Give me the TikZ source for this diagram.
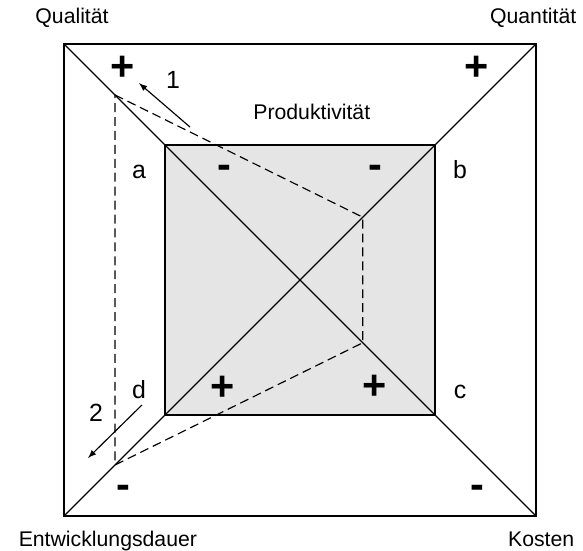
\documentclass[tikz,border=0pt]{standalone}
\usepackage{fontspec}
\setmainfont{Liberation Sans}
\usepackage{tikz}

\begin{document}
\begin{tikzpicture}[
        corner/.style={font=\fontsize{12.8}{14}\selectfont},
        side/.style={font=\fontsize{15}{17}\selectfont},
        sign/.style={font=\fontsize{25}{27}\selectfont\bfseries},
        guide/.style={dashed,dash pattern=on 5.4pt off 3pt,line width=0.7pt},
        line width=0.7pt
      ]
      \useasboundingbox (-6.356,-5.742) rectangle (5.996,5.932);
      % outer and inner square
      \coordinate (Q1) at (-5,5);
      \coordinate (Q2) at (5,5);
      \coordinate (Q3) at (5,-5);
      \coordinate (Q4) at (-5,-5);
      \coordinate (i1) at (-2.86,2.86);
      \coordinate (i2) at (2.86,2.86);
      \coordinate (i3) at (2.86,-2.86);
      \coordinate (i4) at (-2.86,-2.86);
      \fill[gray!20] (i1) rectangle (i3);
      \draw (Q1) -- (Q3);
      \draw (Q2) -- (Q4);
      \draw (Q1) -- (Q2) -- (Q3) -- (Q4) -- cycle;
      \draw (i1) -- (i2) -- (i3) -- (i4) -- cycle;
      % dashed profile
      \coordinate (p1) at (-3.92,3.92);
      \coordinate (p2) at (1.33,1.33);
      \coordinate (p3) at (1.33,-1.33);
      \coordinate (p4) at (-3.92,-3.92);
      \draw[guide] (p1) -- (p2) -- (p3) -- (p4) -- cycle;
      % arrows
      \coordinate (a1s) at (-2.33,3.24);
      \coordinate (a1e) at (-3.41,4.17);
      \coordinate (a2s) at (-3.35,-2.65);
      \coordinate (a2e) at (-4.49,-3.77);
      \draw[-latex] (a1s) -- (a1e);
      \draw[-latex] (a2s) -- (a2e);
      \node (n1) [side] at (-2.69,4.24) {1};
      \node (n2) [side] at (-4.32,-2.82) {2};
      % labels
      \node (qual) [corner] at (-4.83,5.55) {Qualität};
      \node (quan) [corner] at (4.94,5.55) {Quantität};
      \node (dauer) [corner] at (-4.07,-5.53) {Entwicklungsdauer};
      \node (kost) [corner] at (5.11,-5.49) {Kosten};
      \node (prod) [corner] at (0.25,3.56) {Produktivität};
      \node (a) [side] at (-3.41,2.29) {a};
      \node (b) [side] at (3.39,2.33) {b};
      \node (c) [side] at (3.39,-2.37) {c};
      \node (d) [side] at (-3.41,-2.33) {d};
      \node (s1) [sign] at (-3.75,4.49) {+};
      \node (s2) [sign] at (3.75,4.49) {+};
      \node (s3) [sign] at (-1.61,2.29) {-};
      \node (s4) [sign] at (1.59,2.29) {-};
      \node (s5) [sign] at (-1.63,-2.29) {+};
      \node (s6) [sign] at (1.59,-2.27) {+};
      \node (s7) [sign] at (-3.75,-4.49) {-};
      \node (s8) [sign] at (3.75,-4.49) {-};
    \end{tikzpicture}
\end{document}
